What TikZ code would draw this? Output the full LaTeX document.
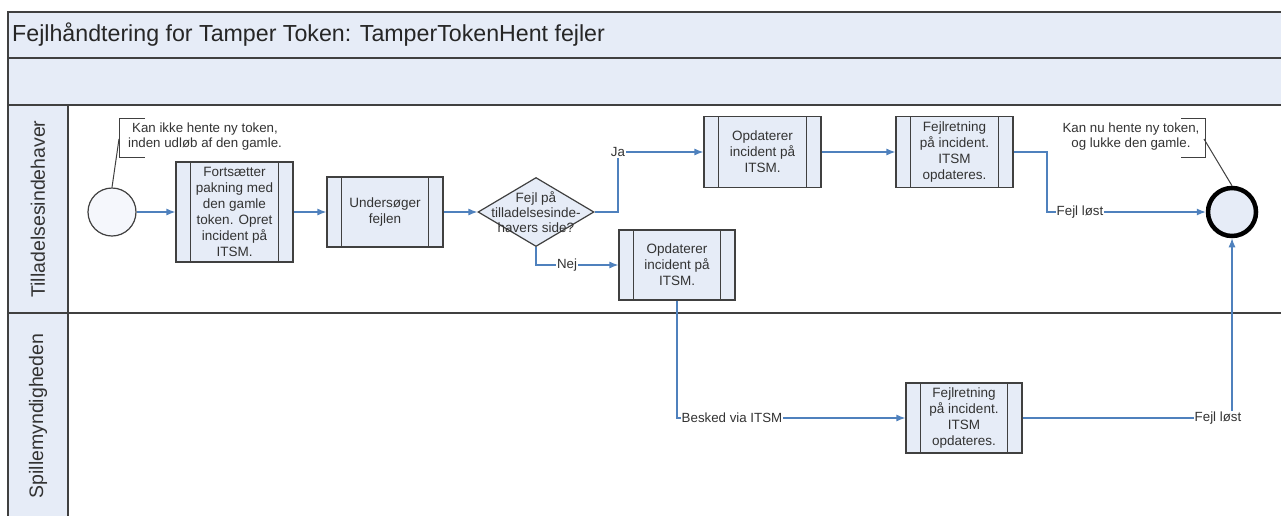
\documentclass[tikz,border=0pt]{standalone}
\usepackage{fontspec}
\setmainfont{Liberation Sans}
\usetikzlibrary{arrows.meta,shapes.geometric}
\definecolor{hdrfill}{HTML}{E6ECF7}
\definecolor{boxfill}{HTML}{E6ECF7}
\definecolor{framec}{HTML}{404040}
\definecolor{flowc}{HTML}{4F81BD}
\newcommand{\boxfnt}{\fontsize{13.5}{16}\selectfont}
\newcommand{\dfnt}{\fontsize{13.5}{15}\selectfont}
\newcommand{\lblfnt}{\fontsize{13.3}{15}\selectfont}
\newcommand{\titlefnt}{\fontsize{23.2}{27}\selectfont}
\newcommand{\lanefnt}{\fontsize{19.5}{22}\selectfont}
\begin{document}
\begin{tikzpicture}[x=1pt,y=-1pt,
  band/.style={draw=framec,fill=hdrfill,line width=1.3pt},
  laneline/.style={draw=framec,line width=2.4pt},
  subproc/.style={rectangle,draw=framec,fill=boxfill,line width=1.2pt,inner sep=0pt,
    align=center,font=\boxfnt,text=black!80,
    path picture={
      \draw[framec,line width=1.2pt] ([xshift=14.5pt]path picture bounding box.north west) -- ([xshift=14.5pt]path picture bounding box.south west);
      \draw[framec,line width=1.2pt] ([xshift=-14.5pt]path picture bounding box.north east) -- ([xshift=-14.5pt]path picture bounding box.south east);}},
  decision/.style={diamond,draw=framec,fill=boxfill,line width=1.2pt,inner sep=0pt,minimum width=116pt,minimum height=69pt},
  flow/.style={draw=flowc,line width=1.2pt},
  flowarr/.style={flow,-{Latex[length=9pt,width=7pt]}},
  lbl/.style={fill=white,inner sep=1pt,font=\lblfnt,text=black!80},
  annot/.style={align=center,font=\lblfnt,text=black!80,inner sep=0pt},
  bracket/.style={draw=framec,line width=1pt}
]
\useasboundingbox (0,0) rectangle (1281,515);
\fill[white] (0,0) rectangle (1281,515);
\begin{scope}
  \clip (0,0) rectangle (1281,515);
  \draw[band] (8,12) rectangle (1300,58);
  \draw[band] (8,58) rectangle (1300,105);
  \draw[band] (8,105) rectangle (68,313);
  \draw[band] (8,313) rectangle (68,530);
  \draw[laneline] (8,105) -- (1300,105);
  \draw[laneline] (8,313) -- (1300,313);
  \draw[laneline] (8,12) -- (8,530);
\end{scope}

\node[anchor=west,font=\titlefnt,inner sep=0pt,text=black!85] (title) at (12,35) {Fejlhåndtering for Tamper Token: TamperTokenHent fejler};
\node[rotate=90,font=\lanefnt,inner sep=0pt,text=black!80] (lane1) at (38,209) {Tilladelsesindehaver};
\node[rotate=90,font=\lanefnt,inner sep=0pt,text=black!80] (lane2) at (38,416) {Spillemyndigheden};

% events
\node[circle,draw=framec,fill=hdrfill!40,line width=1.2pt,minimum size=48pt,inner sep=0pt] (start) at (112,212) {};
\node[circle,draw=black,fill=boxfill,line width=4.5pt,minimum size=48pt,inner sep=0pt] (end) at (1232,212) {};

% tasks
\node[subproc,minimum width=117pt,minimum height=100pt] (box1) at (234.5,212) {Fortsætter\\pakning med\\den gamle\\token. Opret\\incident på\\ITSM.};
\node[subproc,minimum width=116pt,minimum height=70pt] (box2) at (385,212) {Undersøger\\fejlen};
\node[decision] (dia) at (536,212) {};
\node[align=center,font=\dfnt,inner sep=0pt,text=black!80] (diatext) at (dia.center) {Fejl på\\tilladelsesinde-\\havers side?};
\node[subproc,minimum width=117pt,minimum height=71pt] (box3) at (762.5,152) {Opdaterer\\incident på\\ITSM.};
\node[subproc,minimum width=116pt,minimum height=70pt] (box4) at (677,265) {Opdaterer\\incident på\\ITSM.};
\node[subproc,minimum width=117pt,minimum height=71pt] (box5) at (954.5,152) {Fejlretning\\på incident.\\ITSM\\opdateres.};
\node[subproc,minimum width=116pt,minimum height=70pt] (box6) at (964,418) {Fejlretning\\på incident.\\ITSM\\opdateres.};

% annotations
\node[annot] (ann1) at (205,137) {Kan ikke hente ny token,\\inden udløb af den gamle.};
\draw[bracket] (145,118) -- (119,118) -- (119,157) -- (145,157);
\coordinate (b1) at (119,139);
\draw[bracket] (b1) -- (start.north);
\node[annot] (ann2) at (1131,137) {Kan nu hente ny token,\\og lukke den gamle.};
\draw[bracket] (1181,118) -- (1205,118) -- (1205,157) -- (1181,157);
\coordinate (b2) at (1204,139);
\draw[bracket] (b2) -- (end.north);

% labels
\node[lbl] (ja) at (618,152) {Ja};
\node[lbl] (nej) at (567,265) {Nej};
\node[lbl] (fl1) at (1080,212) {Fejl løst};
\node[lbl] (besked) at (732,418) {Besked via ITSM};
\node[lbl] (fl2) at (1218,418) {Fejl løst};
\coordinate (c1) at (1047,152);

% connectors
\draw[flowarr] (start) -- (box1);
\draw[flowarr] (box1) -- (box2);
\draw[flowarr] (box2) -- (dia);
\draw[flow] (dia.east) -| (ja.south);
\draw[flowarr] (ja.east) -- (ja.east -| box3.west);
\draw[flow] (dia.south) |- (nej.west);
\draw[flowarr] (nej.east) -- (nej.east -| box4.west);
\draw[flowarr] (box3) -- (box5);
\draw[flow] (box5.east) -- (c1) |- (fl1.west);
\draw[flowarr] (fl1.east) -- (fl1.east -| end.west);
\draw[flow] (box4.south) |- (besked.west);
\draw[flowarr] (besked.east) -- (besked.east -| box6.west);
\draw[flow] (box6.east) -- (box6.east -| fl2.west);
\draw[flowarr] (fl2.north -| end.south) -- (end.south);
\end{tikzpicture}
\end{document}
